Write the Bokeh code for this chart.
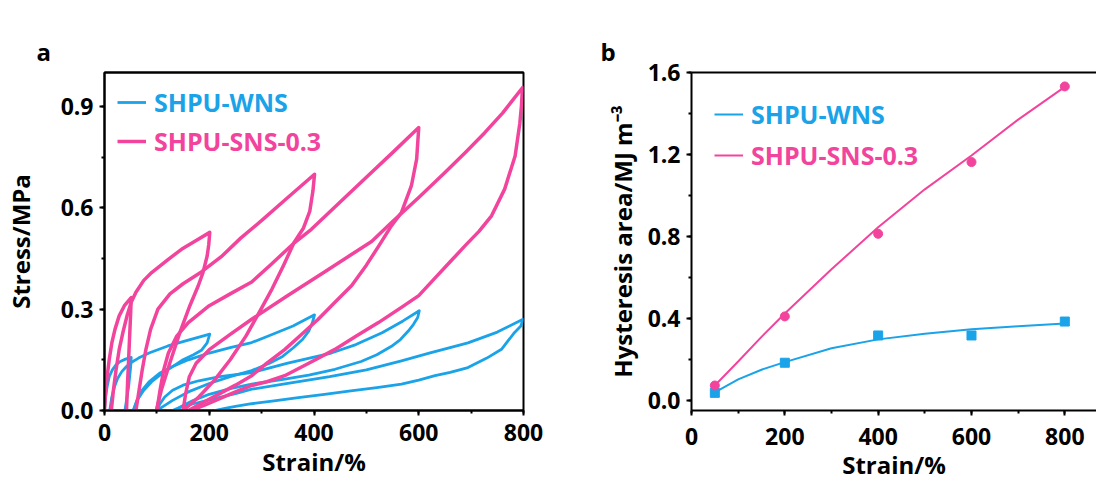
from bokeh.plotting import figure
from bokeh.layouts import row
from bokeh.models import (Legend, LegendItem, LinearAxis, SingleIntervalTicker, FixedTicker,
                          NumeralTickFormatter, Range1d, Title)
from bokeh.embed import file_html
from bokeh.resources import INLINE

# ---------------- data: panel a (stress-strain loops, loading then unloading) ----------------
WNS_50_STRAIN = [0, 2, 5, 9, 15, 22, 30, 40, 51, 50, 48, 46, 43, 39]
WNS_50_STRESS = [0, 0.04, 0.07, 0.10, 0.12, 0.135, 0.145, 0.152, 0.157, 0.13, 0.10, 0.07, 0.04, 0]
WNS_200_STRAIN = [10, 14, 19, 25, 33, 42, 51, 65, 85, 121, 160, 201,
                  196, 185, 170, 150, 130, 110, 90, 75, 62, 55]
WNS_200_STRESS = [0, 0.04, 0.07, 0.095, 0.115, 0.13, 0.142, 0.155, 0.17, 0.191, 0.208, 0.226,
                  0.20, 0.178, 0.165, 0.15, 0.13, 0.11, 0.085, 0.06, 0.03, 0]
WNS_400_STRAIN = [55, 62, 72, 85, 105, 130, 160, 200, 240, 281, 320, 360, 401,
                  397, 390, 378, 360, 340, 315, 281, 240, 200, 160, 130, 110, 100]
WNS_400_STRESS = [0, 0.03, 0.06, 0.085, 0.11, 0.13, 0.15, 0.17, 0.186, 0.201, 0.225, 0.25, 0.283,
                  0.26, 0.235, 0.21, 0.185, 0.16, 0.14, 0.118, 0.10, 0.08, 0.055, 0.03, 0.01, 0]
WNS_600_STRAIN = [100, 106, 115, 130, 150, 180, 220, 281, 350, 433, 480, 530, 570, 601,
                  598, 590, 580, 565, 548, 520, 490, 440, 390, 344, 281, 240, 200, 170, 150, 135]
WNS_600_STRESS = [0, 0.02, 0.04, 0.06, 0.075, 0.088, 0.10, 0.112, 0.14, 0.17, 0.195, 0.23, 0.265, 0.295,
                  0.275, 0.255, 0.235, 0.21, 0.19, 0.165, 0.145, 0.122, 0.105, 0.093, 0.078, 0.065, 0.048, 0.03, 0.015, 0]
WNS_800_STRAIN = [130, 145, 170, 210, 250, 281, 350, 430, 500, 567, 620, 694, 750, 799,
                  795, 783, 770, 758, 730, 694, 660, 631, 600, 567, 520, 470, 420, 370, 320, 281, 250, 230, 210]
WNS_800_STRESS = [0, 0.01, 0.02, 0.035, 0.05, 0.063, 0.08, 0.10, 0.12, 0.147, 0.17, 0.20, 0.232, 0.27,
                  0.25, 0.231, 0.205, 0.181, 0.155, 0.127, 0.113, 0.103, 0.09, 0.078, 0.068, 0.058, 0.048, 0.038, 0.028, 0.02, 0.012, 0.006, 0]

SNS_50_STRAIN = [0, 2, 5, 9, 14, 20, 28, 38, 51, 50, 48, 46, 44, 42]
SNS_50_STRESS = [0, 0.05, 0.10, 0.15, 0.20, 0.24, 0.28, 0.31, 0.334, 0.29, 0.22, 0.15, 0.08, 0]
SNS_200_STRAIN = [13, 17, 22, 28, 35, 43, 51, 60, 75, 90, 120, 147, 175, 201,
                  199, 196, 188, 179, 163, 144, 125, 109, 99]
SNS_200_STRESS = [0, 0.06, 0.12, 0.18, 0.23, 0.28, 0.32, 0.35, 0.385, 0.408, 0.445, 0.477, 0.503, 0.527,
                  0.49, 0.457, 0.408, 0.369, 0.31, 0.231, 0.142, 0.063, 0]
SNS_400_STRAIN = [60, 66, 72, 79, 88, 102, 125, 150, 185, 223, 260, 303, 350, 401,
                  398, 392, 380, 362, 342, 320, 297, 270, 240, 210, 180, 150]
SNS_400_STRESS = [0, 0.06, 0.12, 0.18, 0.24, 0.30, 0.345, 0.375, 0.41, 0.455, 0.51, 0.566, 0.63, 0.699,
                  0.65, 0.59, 0.54, 0.497, 0.43, 0.36, 0.295, 0.22, 0.15, 0.09, 0.04, 0]
SNS_600_STRAIN = [100, 106, 113, 122, 138, 160, 200, 240, 281, 320, 363, 395, 450, 500, 550, 600,
                  598, 596, 586, 567, 548, 525, 500, 472, 440, 408, 376, 344, 310, 281, 250, 220, 190, 160]
SNS_600_STRESS = [0, 0.06, 0.12, 0.17, 0.22, 0.26, 0.31, 0.345, 0.38, 0.435, 0.497, 0.536, 0.617, 0.69, 0.763, 0.837,
                  0.79, 0.744, 0.665, 0.586, 0.547, 0.49, 0.43, 0.37, 0.32, 0.27, 0.225, 0.18, 0.14, 0.103, 0.075, 0.05, 0.025, 0]
SNS_800_STRAIN = [150, 155, 162, 175, 200, 240, 281, 350, 420, 470, 510, 548, 600, 650, 690, 726, 760, 798,
                  796, 793, 784, 764, 739, 715, 690, 660, 630, 600, 567, 523, 480, 439, 390, 344, 310, 281, 250, 220, 190, 165]
SNS_800_STRESS = [0, 0.05, 0.10, 0.14, 0.18, 0.225, 0.27, 0.34, 0.41, 0.46, 0.50, 0.556, 0.63, 0.704, 0.765, 0.822, 0.88, 0.955,
                  0.90, 0.85, 0.753, 0.655, 0.576, 0.53, 0.49, 0.44, 0.39, 0.34, 0.305, 0.26, 0.22, 0.18, 0.14, 0.103, 0.085, 0.074, 0.055, 0.035, 0.015, 0]

# ---------------- data: panel b (hysteresis area) ----------------
MAX_STRAIN = [50, 200, 400, 600, 800]
WNS_AREA = [0.037, 0.184, 0.317, 0.317, 0.385]
SNS_AREA = [0.073, 0.41, 0.813, 1.163, 1.532]
FIT_STRAIN = [50, 100, 150, 200, 300, 400, 500, 600, 700, 800]
WNS_FIT = [0.04, 0.103, 0.15, 0.187, 0.255, 0.298, 0.325, 0.347, 0.362, 0.375]
SNS_FIT = [0.073, 0.19, 0.31, 0.424, 0.64, 0.845, 1.03, 1.195, 1.37, 1.53]

BLUE = "#1aa3e8"
PINK = "#f2449c"
FONT = "Open Sans"


def style_axes(p, tick_standoff, label_standoff_x, label_standoff_y):
    for ax in p.axis:
        ax.axis_line_width = 2
        ax.axis_line_color = "black"
        ax.major_tick_line_width = 2
        ax.minor_tick_line_width = 2
        ax.major_tick_in = 0
        ax.major_tick_out = 5
        ax.minor_tick_in = 0
        ax.minor_tick_out = 3
        ax.major_label_text_font = FONT
        ax.major_label_text_font_style = "bold"
        ax.major_label_text_font_size = "23px"
        ax.major_label_text_color = "black"
        ax.axis_label_text_font = FONT
        ax.axis_label_text_font_style = "bold"
        ax.axis_label_text_font_size = "24px"
        ax.axis_label_text_color = "black"
    p.xaxis.major_label_standoff = tick_standoff
    p.yaxis.major_label_standoff = 6
    p.xaxis.axis_label_standoff = label_standoff_x
    p.yaxis.axis_label_standoff = label_standoff_y
    p.grid.visible = False


def add_legend(p, renderer, text, color, loc):
    lg = Legend(items=[LegendItem(label=text, renderers=[renderer])], location=loc,
                border_line_color=None, background_fill_alpha=0, padding=0, margin=0,
                glyph_width=29, glyph_height=20, label_height=20, label_standoff=8,
                label_text_font=FONT, label_text_font_style="bold",
                label_text_font_size="25px", label_text_color=color)
    p.add_layout(lg)


def top_spacer_axis(p, gap, line_color):
    # tickless top axis: draws the top border line and reserves space below the panel letter
    ax = LinearAxis(ticker=FixedTicker(ticks=[], minor_ticks=[]), axis_line_width=2,
                    axis_line_color=line_color, major_tick_out=gap, major_tick_in=0,
                    minor_tick_out=0, minor_tick_in=0, major_label_standoff=0)
    p.add_layout(ax, "above")
    return ax


def panel_letter(p, text, offset):
    p.add_layout(Title(text=text, align="left", offset=offset, standoff=10, text_font=FONT,
                       text_font_style="bold", text_font_size="24px", text_color="black"), "above")


# ---------------- panel a ----------------
pa = figure(frame_width=419, frame_height=338, min_border_left=103, min_border_right=68,
            min_border_top=70, min_border_bottom=70, x_range=Range1d(0, 800), y_range=Range1d(0, 1.0),
            output_backend="svg", toolbar_location=None)
pa.outline_line_color = "black"
pa.outline_line_width = 2
pa.xaxis.ticker = SingleIntervalTicker(interval=200, num_minor_ticks=2)
pa.yaxis.ticker = SingleIntervalTicker(interval=0.3, num_minor_ticks=2)
pa.yaxis.formatter = NumeralTickFormatter(format="0.0")
pa.xaxis.axis_label = "Strain/%"
pa.yaxis.axis_label = "Stress/MPa"
style_axes(pa, 8, 1, 21)
top_spacer_axis(pa, 24, "black")
panel_letter(pa, "a", -68)

rw = pa.multi_line(xs=[WNS_50_STRAIN, WNS_200_STRAIN, WNS_400_STRAIN, WNS_600_STRAIN, WNS_800_STRAIN],
                   ys=[WNS_50_STRESS, WNS_200_STRESS, WNS_400_STRESS, WNS_600_STRESS, WNS_800_STRESS],
                   line_color=BLUE, line_width=2.8, line_join="round")
rs = pa.multi_line(xs=[SNS_50_STRAIN, SNS_200_STRAIN, SNS_400_STRAIN, SNS_600_STRAIN, SNS_800_STRAIN],
                   ys=[SNS_50_STRESS, SNS_200_STRESS, SNS_400_STRESS, SNS_600_STRESS, SNS_800_STRESS],
                   line_color=PINK, line_width=3.5, line_join="round")
add_legend(pa, rw, "SHPU-WNS", BLUE, (13, 291))
add_legend(pa, rs, "SHPU-SNS-0.3", PINK, (13, 252))

# ---------------- panel b ----------------
pb = figure(frame_width=405, frame_height=338, min_border_left=100, min_border_right=0,
            min_border_top=72, min_border_bottom=68, x_range=Range1d(0, 867.9),
            y_range=Range1d(-0.049, 1.6), output_backend="svg", toolbar_location=None)
pb.outline_line_color = None
pb.xaxis.ticker = SingleIntervalTicker(interval=200, num_minor_ticks=2)
pb.yaxis.ticker = SingleIntervalTicker(interval=0.4, num_minor_ticks=2)
pb.yaxis.formatter = NumeralTickFormatter(format="0.0")
pb.xaxis.axis_label = "Strain/%"
pb.yaxis.axis_label = "Hysteresis area/MJ m\u207b\u00b3"
style_axes(pb, 12, 0, 6)
top_spacer_axis(pb, 26, "black")
panel_letter(pb, "b", -91)

fw = pb.line(FIT_STRAIN, WNS_FIT, line_color=BLUE, line_width=2)
fs = pb.line(FIT_STRAIN, SNS_FIT, line_color=PINK, line_width=2)
pb.scatter(MAX_STRAIN, WNS_AREA, marker="square", size=9, color=BLUE)
pb.scatter(MAX_STRAIN, SNS_AREA, marker="circle", size=9, color=PINK)
add_legend(pb, fw, "SHPU-WNS", BLUE, (23, 279))
add_legend(pb, fs, "SHPU-SNS-0.3", PINK, (23, 238))

layout = row(pa, pb, spacing=0)
open("out.html", "w").write(file_html(layout, INLINE))
